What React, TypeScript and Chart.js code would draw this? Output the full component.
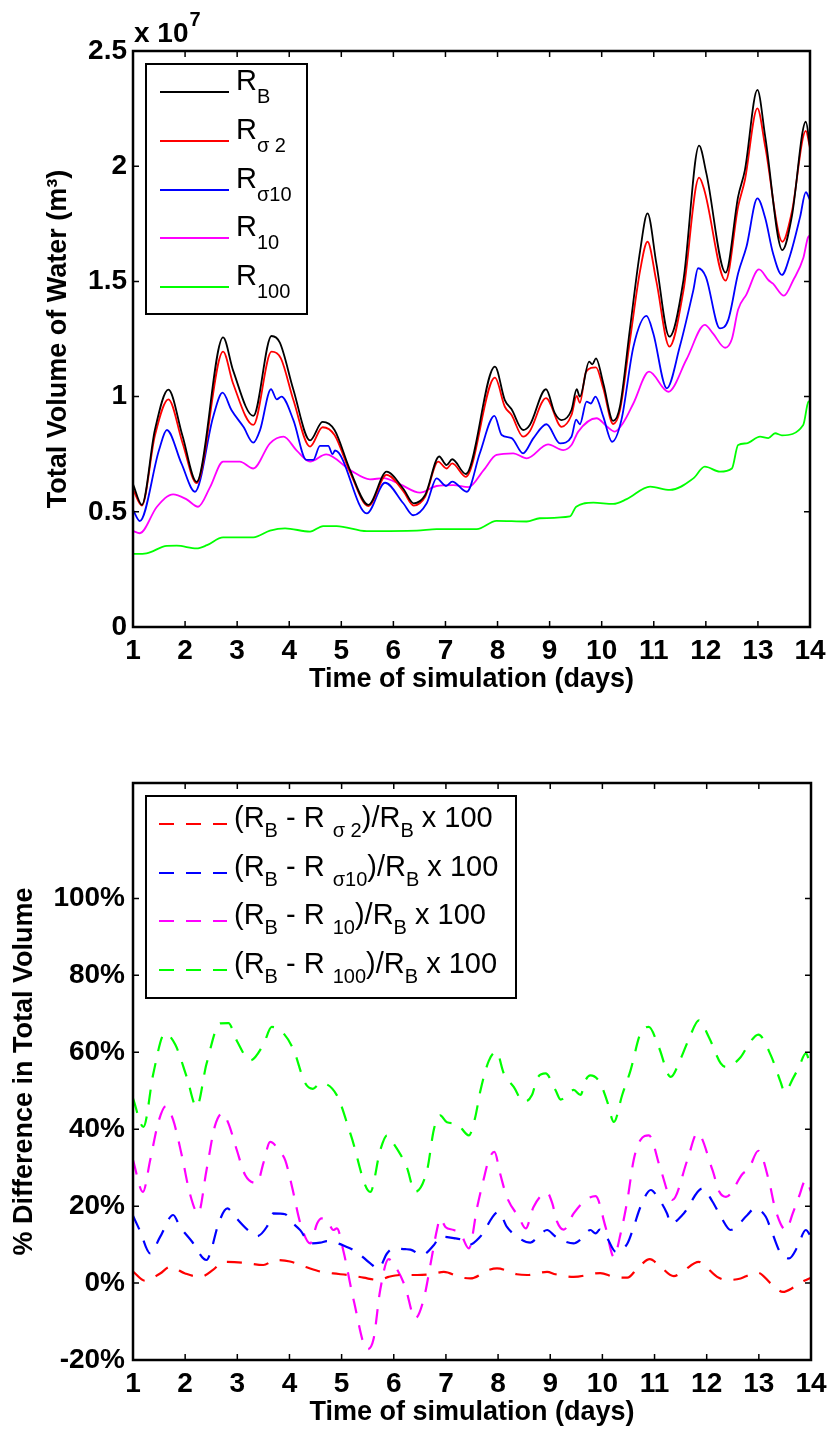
import React, { useEffect, useRef } from 'react';
import { Chart, registerables } from 'chart.js';

Chart.register(...registerables);

const FONT = "'Liberation Sans', Arial, Helvetica, sans-serif";

// ---------- Top chart: total volume of water (x 10^7 m^3) ----------
const xTickDays = [1, 2, 3, 4, 5, 6, 7, 8, 9, 10, 11, 12, 13, 14];
const topYTicks = [0, 0.5, 1, 1.5, 2, 2.5];

const rbDays = [1.00,1.17,1.42,1.68,1.95,2.22,2.73,2.92,3.31,3.66,3.82,4.08,4.40,4.64,4.87,5.17,5.52,5.87,6.19,6.39,6.61,6.88,7.02,7.13,7.39,7.95,8.14,8.27,8.49,8.62,8.93,9.10,9.23,9.42,9.52,9.58,9.76,9.82,9.89,10.03,10.22,10.35,10.54,10.74,10.88,11.05,11.30,11.57,11.87,12.01,12.38,12.62,12.75,12.99,13.14,13.47,13.65,13.92,14.00];
const rbVol = [0.62,0.53,0.855,1.03,0.83,0.63,1.257,1.115,0.916,1.263,1.234,1.03,0.81,0.89,0.855,0.68,0.53,0.674,0.60,0.537,0.573,0.74,0.703,0.728,0.664,1.13,0.985,0.945,0.855,0.877,1.032,0.928,0.898,0.942,1.032,1.0,1.152,1.14,1.166,1.058,0.895,0.956,1.29,1.636,1.795,1.578,1.26,1.506,2.089,1.969,1.538,1.868,1.983,2.331,2.128,1.636,1.78,2.193,2.085];

const rs2Days = [1.00,1.17,1.42,1.68,1.95,2.22,2.73,2.92,3.31,3.66,3.84,4.08,4.40,4.64,4.87,5.17,5.52,5.87,6.19,6.39,6.61,6.86,7.02,7.13,7.39,7.95,8.14,8.27,8.49,8.62,8.93,9.23,9.42,9.52,9.58,9.70,9.89,10.03,10.22,10.35,10.54,10.74,10.88,11.05,11.30,11.57,11.87,11.97,12.38,12.62,12.75,12.99,13.14,13.47,13.65,13.92,14.00];
const rs2Vol = [0.597,0.527,0.83,0.988,0.80,0.625,1.195,1.058,0.877,1.195,1.166,0.985,0.783,0.867,0.833,0.67,0.525,0.66,0.59,0.527,0.565,0.718,0.688,0.71,0.652,1.082,0.956,0.92,0.826,0.85,0.993,0.869,0.92,1.003,0.973,1.108,1.127,1.036,0.881,0.94,1.24,1.55,1.672,1.50,1.217,1.46,1.95,1.897,1.503,1.825,1.94,2.251,2.085,1.672,1.80,2.153,2.078];

const rs10Days = [1.00,1.13,1.50,1.65,1.93,2.19,2.54,2.72,2.89,3.12,3.31,3.44,3.65,3.76,3.85,4.08,4.33,4.46,4.59,4.75,4.83,4.88,5.49,5.84,6.19,6.38,6.64,6.83,7.01,7.13,7.41,7.66,7.94,8.08,8.27,8.49,8.69,8.94,9.20,9.42,9.51,9.58,9.71,9.79,9.88,10.03,10.20,10.38,10.61,10.86,10.99,11.25,11.50,11.76,11.85,12.00,12.27,12.43,12.62,12.78,12.99,13.14,13.29,13.46,13.62,13.81,13.92,14.00];
const rs10Vol = [0.508,0.46,0.768,0.855,0.71,0.587,0.913,1.017,0.942,0.869,0.80,0.855,1.032,0.988,1.0,0.898,0.725,0.725,0.786,0.786,0.75,0.766,0.493,0.626,0.537,0.485,0.537,0.645,0.612,0.631,0.587,0.754,0.916,0.833,0.82,0.754,0.82,0.88,0.797,0.826,0.90,0.88,0.978,0.97,1.0,0.913,0.804,0.90,1.217,1.35,1.275,1.036,1.217,1.462,1.557,1.52,1.296,1.333,1.535,1.65,1.86,1.775,1.622,1.528,1.615,1.78,1.887,1.853];

const r10Days = [1.00,1.13,1.46,1.77,2.03,2.25,2.48,2.73,3.05,3.31,3.63,3.89,4.14,4.40,4.71,5.17,5.55,5.81,6.13,6.51,6.83,7.15,7.44,7.73,7.98,8.30,8.56,8.97,9.26,9.42,9.55,9.90,10.10,10.25,10.41,10.61,10.91,11.28,11.63,11.98,12.14,12.37,12.50,12.62,12.78,13.02,13.20,13.29,13.50,13.68,13.87,13.96,14.00];
const r10Vol = [0.417,0.407,0.522,0.576,0.554,0.522,0.607,0.718,0.718,0.688,0.797,0.826,0.767,0.718,0.749,0.681,0.641,0.646,0.619,0.583,0.612,0.616,0.607,0.68,0.747,0.754,0.732,0.793,0.768,0.79,0.848,0.906,0.87,0.848,0.885,0.971,1.108,1.021,1.162,1.311,1.273,1.212,1.25,1.378,1.444,1.552,1.506,1.49,1.438,1.506,1.60,1.69,1.70];

const r100Days = [1.00,1.26,1.65,1.84,2.22,2.42,2.73,3.31,3.63,3.92,4.40,4.65,4.91,5.49,6.45,6.83,7.60,7.98,8.56,8.81,9.39,9.51,9.84,10.22,10.48,10.93,11.31,11.76,11.98,12.27,12.50,12.62,12.78,13.04,13.20,13.33,13.46,13.87,13.97,14.00];
const r100Vol = [0.317,0.32,0.352,0.353,0.341,0.355,0.389,0.389,0.418,0.428,0.414,0.438,0.438,0.416,0.418,0.425,0.425,0.461,0.458,0.472,0.48,0.522,0.54,0.534,0.555,0.609,0.595,0.645,0.696,0.674,0.688,0.79,0.797,0.826,0.82,0.841,0.832,0.877,0.978,0.98];

// ---------- Bottom chart: % difference in total volume ----------
const botYTicks = [-20, 0, 20, 40, 60, 80, 100];

const d2Days = [1.00,1.23,1.52,1.71,2.00,2.29,2.54,2.73,3.12,3.50,3.73,4.01,4.33,4.62,4.84,5.17,5.42,5.71,5.90,6.13,6.45,6.70,6.96,7.28,7.47,7.82,7.98,8.36,8.56,8.94,9.10,9.45,9.96,10.22,10.48,10.67,10.91,11.08,11.37,11.53,11.85,11.98,12.20,12.40,12.65,12.81,12.98,13.23,13.46,13.67,13.87,14.00];
const d2Pct = [3.0,0.6,2.5,4.2,2.5,1.6,3.5,5.5,5.3,4.7,6.0,5.6,4.1,2.9,2.5,2.0,1.4,0.8,1.6,2.1,2.1,2.3,2.9,1.5,1.2,3.4,3.8,2.3,2.1,2.9,2.3,1.6,2.6,1.6,1.4,3.8,6.2,4.7,1.8,2.9,5.5,4.3,1.6,0.8,1.2,2.1,2.7,-0.1,-2.3,-1.1,0.6,1.4];

const d10sDays = [1.00,1.13,1.33,1.52,1.77,1.90,2.13,2.41,2.48,2.64,2.81,2.96,3.21,3.38,3.57,3.69,3.92,4.01,4.21,4.40,4.59,4.72,5.10,5.29,5.55,5.71,5.87,6.00,6.22,6.32,6.54,6.77,6.89,7.15,7.31,7.44,7.66,8.01,8.17,8.33,8.62,8.75,8.94,9.10,9.45,9.58,9.77,9.87,9.95,10.09,10.26,10.48,10.60,10.73,10.93,11.05,11.24,11.31,11.56,11.92,12.11,12.27,12.46,12.78,12.92,13.13,13.26,13.42,13.58,13.74,13.90,14.00];
const d10sPct = [17.5,13.7,7.7,12.0,17.7,14.7,10.8,6.0,7.7,15.5,19.4,17.2,13.7,12.2,14.7,18.1,17.9,16.3,13.7,10.3,10.5,10.9,9.4,8.1,5.1,3.8,7.7,9.0,8.8,8.7,7.3,9.9,12.1,11.7,11.2,9.9,12.1,18.5,14.6,12.4,10.5,11.8,13.8,12.1,10.3,11.3,13.8,12.9,13.9,11.7,8.1,10.3,14.6,19.8,24.2,22.5,18.1,15.5,18.1,24.6,21.2,17.3,13.8,17.7,19.4,17.3,12.9,7.7,6.4,9.4,13.8,12.1];

const d10Days = [1.00,1.19,1.33,1.49,1.63,1.77,1.94,2.09,2.25,2.41,2.57,2.72,2.83,2.99,3.15,3.38,3.50,3.63,3.82,3.92,4.05,4.21,4.40,4.53,4.62,4.72,4.84,4.91,5.04,5.23,5.49,5.61,5.74,5.90,6.03,6.22,6.41,6.57,6.73,6.83,6.89,6.99,7.15,7.28,7.44,7.60,7.72,7.82,7.93,8.04,8.17,8.40,8.53,8.68,8.94,9.04,9.13,9.26,9.45,9.68,9.87,10.06,10.22,10.35,10.48,10.60,10.73,10.89,11.12,11.34,11.63,11.82,12.11,12.24,12.37,12.69,12.81,12.99,13.19,13.32,13.52,13.65,13.77,13.90,14.00];
const d10Pct = [32,23.7,32,42,46,42.4,32.9,23.3,18.1,29.4,40.8,44.2,41.5,34.6,28.1,26,31.2,36.7,34.1,31.9,25,15.5,10.3,15.5,16.8,16.4,13.8,14.2,8.0,-4.4,-17.2,-14.7,-1.8,6.2,4.3,-1,-9.2,-4.4,6.8,14,16.8,14.6,13.8,12.9,9,19.8,26.8,32,34.1,28.4,22.3,17.1,14.2,19.8,23.5,20.7,16,13.9,18.1,21.6,22.6,14.6,6.8,12.9,21.6,32,37.2,38.4,29.4,21.6,32,39,29.4,23.8,22.4,28.4,29.8,34.4,26.8,19,13.8,18.1,22.5,26.8,23.8];

const d100Days = [1.00,1.20,1.39,1.61,1.81,2.03,2.22,2.41,2.67,2.83,2.99,3.25,3.50,3.66,3.86,4.08,4.30,4.45,4.60,4.91,5.17,5.55,5.74,5.87,6.00,6.25,6.41,6.64,6.77,6.89,7.02,7.21,7.44,7.56,7.66,7.82,7.97,8.11,8.30,8.49,8.65,8.75,8.91,9.10,9.20,9.45,9.58,9.68,9.77,9.96,10.09,10.22,10.38,10.54,10.73,10.89,11.08,11.31,11.50,11.66,11.85,12.04,12.27,12.37,12.65,12.81,12.99,13.23,13.42,13.49,13.67,13.77,13.90,14.00];
const d100Pct = [48,40.6,54.5,64.9,62,53.6,45.8,57,67.5,67.6,63,57.9,62,66.6,65.3,60.6,52,50.5,52,48.8,38.8,23.7,34.5,38.4,36.2,30.1,23.7,29.4,40,43.6,41.8,41.4,38.4,43,49.9,57.7,60.1,54.5,51,47.1,48.9,53.2,54.5,50.2,47.7,50.2,48.9,52.8,54,52,47.3,41.9,48.9,55.3,64.9,66.6,61.4,53.6,58.3,63.5,68.3,64,57.1,56.2,58.7,62.2,64.6,59.2,52.2,49.7,53.6,56.2,59.7,56.2];

// ---------- Colours / legend text ----------
const BLACK = '#000000';
const RED = '#ff0000';
const BLUE = '#0000ff';
const MAGENTA = '#ff00ff';
const GREEN = '#00ff00';

type Seg = { t: string; sub?: boolean };

const topLegend: { color: string; segs: Seg[] }[] = [
  { color: BLACK, segs: [{ t: 'R' }, { t: 'B', sub: true }] },
  { color: RED, segs: [{ t: 'R' }, { t: 'σ 2', sub: true }] },
  { color: BLUE, segs: [{ t: 'R' }, { t: 'σ10', sub: true }] },
  { color: MAGENTA, segs: [{ t: 'R' }, { t: '10', sub: true }] },
  { color: GREEN, segs: [{ t: 'R' }, { t: '100', sub: true }] },
];

const diffSegs = (s: string): Seg[] => [
  { t: '(R' }, { t: 'B', sub: true }, { t: ' - R ' }, { t: s, sub: true },
  { t: ')/R' }, { t: 'B', sub: true }, { t: ' x 100' },
];

const botLegend: { color: string; segs: Seg[] }[] = [
  { color: RED, segs: diffSegs('σ 2') },
  { color: BLUE, segs: diffSegs('σ10') },
  { color: MAGENTA, segs: diffSegs('10') },
  { color: GREEN, segs: diffSegs('100') },
];

const pts = (xs: number[], ys: number[]) => xs.map((x, i) => ({ x, y: ys[i] }));

type LegendCfg = {
  dx: number; dy: number; w: number; h: number;
  rows: number[]; lx0: number; lx1: number; tx: number;
  baseDy: number; subDy: number; dash: number[];
  items: { color: string; segs: Seg[] }[];
};

function makeOverlay(name: string, legend: LegendCfg, exponent: boolean) {
  return {
    id: 'overlay_' + name,
    afterDraw(chart: any) {
      const { ctx, chartArea: a } = chart;
      const xs = chart.scales.x;
      const ys = chart.scales.y;
      const TL = 6;
      ctx.save();
      ctx.strokeStyle = '#000';
      ctx.setLineDash([]);
      ctx.lineWidth = 1.5;
      ctx.beginPath();
      xs.ticks.forEach((t: any) => {
        const p = xs.getPixelForValue(t.value);
        ctx.moveTo(p, a.bottom); ctx.lineTo(p, a.bottom - TL);
        ctx.moveTo(p, a.top); ctx.lineTo(p, a.top + TL);
      });
      ys.ticks.forEach((t: any) => {
        const p = ys.getPixelForValue(t.value);
        ctx.moveTo(a.left, p); ctx.lineTo(a.left + TL, p);
        ctx.moveTo(a.right, p); ctx.lineTo(a.right - TL, p);
      });
      ctx.stroke();
      ctx.lineWidth = 2.5;
      ctx.strokeRect(a.left, a.top, a.right - a.left, a.bottom - a.top);

      // legend
      const L = legend;
      const bx = a.left + L.dx;
      const by = a.top + L.dy;
      ctx.fillStyle = '#fff';
      ctx.fillRect(bx, by, L.w, L.h);
      ctx.lineWidth = 2;
      ctx.strokeStyle = '#000';
      ctx.strokeRect(bx, by, L.w, L.h);
      ctx.textBaseline = 'alphabetic';
      ctx.textAlign = 'left';
      L.items.forEach((it, i) => {
        const y = a.top + L.rows[i];
        ctx.strokeStyle = it.color;
        ctx.lineWidth = 2;
        ctx.setLineDash(L.dash);
        ctx.beginPath();
        ctx.moveTo(a.left + L.lx0, y);
        ctx.lineTo(a.left + L.lx1, y);
        ctx.stroke();
        ctx.setLineDash([]);
        ctx.fillStyle = '#000';
        let cx = a.left + L.tx;
        it.segs.forEach((s) => {
          ctx.font = s.sub ? `20px ${FONT}` : `29px ${FONT}`;
          ctx.fillText(s.t, cx, y + (s.sub ? L.subDy : L.baseDy));
          cx += ctx.measureText(s.t).width;
        });
      });

      if (exponent) {
        ctx.fillStyle = '#000';
        ctx.font = `bold 28px ${FONT}`;
        const base = 'x 10';
        ctx.fillText(base, a.left + 1, a.top - 9);
        const w = ctx.measureText(base).width;
        ctx.font = `bold 20px ${FONT}`;
        ctx.fillText('7', a.left + 1 + w + 1, a.top - 25);
      }
      ctx.restore();
    },
  };
}

const tickFont = { family: FONT, size: 28, weight: 'bold' as const, lineHeight: 1 };
const titleFont = { family: FONT, size: 27, weight: 'bold' as const, lineHeight: 1 };

function lineDs(label: string, color: string, data: any[], dashed: boolean) {
  return {
    label,
    data,
    borderColor: color,
    backgroundColor: color,
    borderWidth: dashed ? 2.2 : 1.8,
    borderDash: dashed ? [15, 12] : [],
    pointRadius: 0,
    fill: false,
    cubicInterpolationMode: 'monotone' as const,
  };
}

const xScale = (height: number, titlePad: number) => ({
  type: 'linear', min: 1, max: 14,
  afterBuildTicks: (s: any) => { s.ticks = xTickDays.map((v) => ({ value: v })); },
  afterFit: (s: any) => { s.height = height; },
  ticks: { font: tickFont, color: '#000', padding: 0, autoSkip: false, maxRotation: 0, callback: (v: any) => String(v) },
  grid: { display: false, drawTicks: true, tickLength: 10 },
  border: { display: false },
  title: { display: true, text: 'Time of simulation (days)', font: titleFont, color: '#000', padding: { top: 0, bottom: titlePad } },
});

export default function App() {
  const topRef = useRef<HTMLCanvasElement>(null);
  const botRef = useRef<HTMLCanvasElement>(null);

  useEffect(() => {
    const c1 = new Chart(topRef.current as HTMLCanvasElement, {
      type: 'line',
      data: {
        datasets: [
          lineDs('R_B', BLACK, pts(rbDays, rbVol), false),
          lineDs('R_σ2', RED, pts(rs2Days, rs2Vol), false),
          lineDs('R_σ10', BLUE, pts(rs10Days, rs10Vol), false),
          lineDs('R_10', MAGENTA, pts(r10Days, r10Vol), false),
          lineDs('R_100', GREEN, pts(r100Days, r100Vol), false),
        ],
      },
      options: {
        animation: false,
        responsive: false,
        maintainAspectRatio: false,
        layout: { padding: { top: 51, right: 21, left: 0, bottom: 0 } },
        plugins: { legend: { display: false }, tooltip: { enabled: false } },
        scales: {
          x: xScale(73, 6.5),
          y: {
            type: 'linear', min: 0, max: 2.5,
            afterBuildTicks: (s: any) => { s.ticks = topYTicks.map((v) => ({ value: v })); },
            afterFit: (s: any) => { s.width = 133; },
            ticks: { font: tickFont, color: '#000', padding: 6, callback: (v: any) => String(v) },
            grid: { display: false, drawTicks: false },
            border: { display: false },
            title: { display: true, text: 'Total Volume of Water (m³)', font: titleFont, color: '#000', padding: { top: 45, bottom: 0 } },
          },
        },
      },
      plugins: [makeOverlay('top', {
        dx: 13, dy: 13, w: 161, h: 250,
        rows: [41, 90, 139, 187, 236], lx0: 27, lx1: 96, tx: 103,
        baseDy: -2, subDy: 11, dash: [], items: topLegend,
      }, true)],
    } as any);

    const c2 = new Chart(botRef.current as HTMLCanvasElement, {
      type: 'line',
      data: {
        datasets: [
          lineDs('σ2', RED, pts(d2Days, d2Pct), true),
          lineDs('σ10', BLUE, pts(d10sDays, d10sPct), true),
          lineDs('10', MAGENTA, pts(d10Days, d10Pct), true),
          lineDs('100', GREEN, pts(d100Days, d100Pct), true),
        ],
      },
      options: {
        animation: false,
        responsive: false,
        maintainAspectRatio: false,
        layout: { padding: { top: 83, right: 20, left: 0, bottom: 0 } },
        plugins: { legend: { display: false }, tooltip: { enabled: false } },
        scales: {
          x: xScale(75, 8.5),
          y: {
            type: 'linear', min: -20, max: 130,
            afterBuildTicks: (s: any) => { s.ticks = botYTicks.map((v) => ({ value: v })); },
            afterFit: (s: any) => { s.width = 133; },
            ticks: { font: tickFont, color: '#000', padding: 8, callback: (v: any) => v + '%' },
            grid: { display: false, drawTicks: false },
            border: { display: false },
            title: { display: true, text: '% Difference in Total Volume', font: titleFont, color: '#000', padding: { top: 11, bottom: 0 } },
          },
        },
      },
      plugins: [makeOverlay('bot', {
        dx: 13, dy: 13, w: 370, h: 202,
        rows: [41, 90, 138, 187], lx0: 26, lx1: 94, tx: 101,
        baseDy: 3, subDy: 13, dash: [15, 12], items: botLegend,
      }, false)],
    } as any);

    return () => { c1.destroy(); c2.destroy(); };
  }, []);

  return (
    <div style={{ position: 'absolute', left: 0, top: 0, width: 831, height: 1435, background: '#fff' }}>
      <canvas ref={topRef} width={831} height={700} style={{ position: 'absolute', left: 0, top: 0 }} />
      <canvas ref={botRef} width={831} height={735} style={{ position: 'absolute', left: 0, top: 700 }} />
    </div>
  );
}
